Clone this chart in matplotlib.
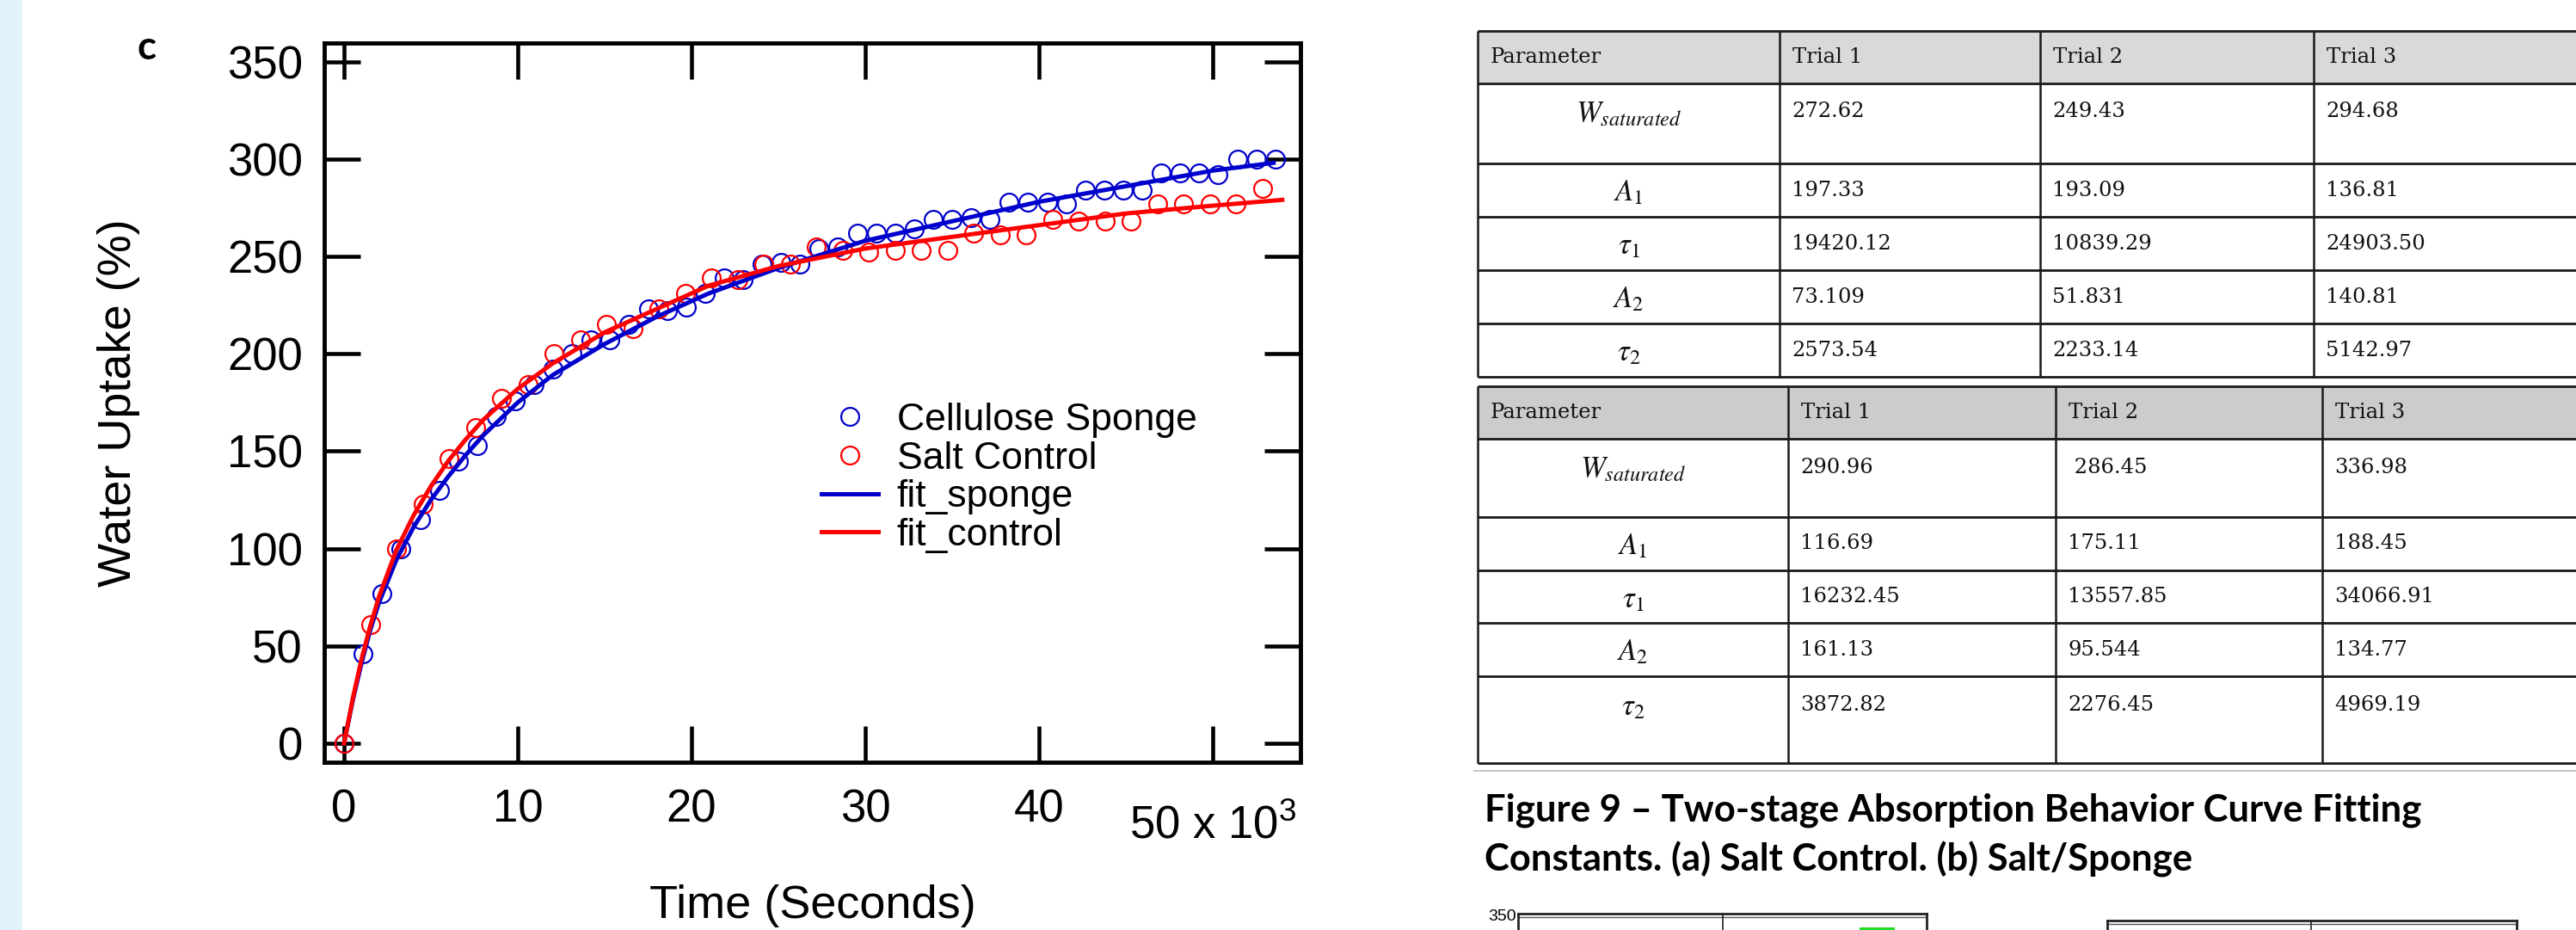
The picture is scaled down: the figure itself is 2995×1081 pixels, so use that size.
import matplotlib
matplotlib.use("Agg")
import matplotlib.pyplot as plt
import matplotlib.transforms as mtransforms
from matplotlib.patches import Rectangle

plt.rcParams['font.family'] = 'Liberation Sans'
plt.rcParams['mathtext.fontset'] = 'custom'
plt.rcParams['mathtext.rm'] = 'Liberation Sans'
plt.rcParams['mathtext.it'] = 'Liberation Sans:italic'
plt.rcParams['mathtext.bf'] = 'Liberation Sans:bold'

# time in 10^3 seconds, water uptake in %
sponge_time = [0, 1.09, 2.19, 3.28, 4.38, 5.47, 6.56, 7.66, 8.75, 9.85,
               10.94, 12.03, 13.13, 14.22, 15.32, 16.41, 17.50, 18.60, 19.69, 20.79,
               21.88, 22.97, 24.07, 25.16, 26.26, 27.35, 28.44, 29.54, 30.63, 31.73,
               32.82, 33.91, 35.01, 36.10, 37.20, 38.29, 39.38, 40.48, 41.57, 42.67,
               43.76, 44.85, 45.95, 47.04, 48.14, 49.23, 50.32, 51.42, 52.51, 53.61]
sponge_uptake = [0, 46, 77, 100, 115, 130, 145, 153, 168, 176,
                 184, 192, 200, 207, 207, 215, 223, 222, 224, 231,
                 239, 238, 246, 247, 246, 254, 255, 262, 262, 262,
                 264, 269, 269, 270, 269, 278, 278, 278, 277, 284,
                 284, 284, 284, 293, 293, 293, 292, 300, 300, 300]

control_time = [0, 1.51, 3.02, 4.53, 6.04, 7.55, 9.06, 10.57, 12.08, 13.59,
                15.10, 16.61, 18.12, 19.63, 21.14, 22.65, 24.16, 25.67, 27.18, 28.69,
                30.20, 31.71, 33.22, 34.73, 36.24, 37.75, 39.26, 40.77, 42.28, 43.79,
                45.30, 46.81, 48.32, 49.83, 51.34, 52.85]
control_uptake = [0, 61, 100, 123, 146, 162, 177, 184, 200, 207,
                  215, 213, 223, 231, 239, 238, 246, 246, 255, 253,
                  252, 253, 253, 253, 262, 261, 261, 269, 268, 268,
                  268, 277, 277, 277, 277, 285]

fit_sponge_time = [0, 0.5, 1, 1.5, 2, 3, 4, 5, 6, 7, 8, 10, 12, 15, 18, 21,
                   25, 30, 35, 40, 45, 50, 53.5]
fit_sponge_uptake = [0, 22, 41, 58, 72, 94, 111, 125, 137, 148, 158, 175, 189,
                     205, 219, 231, 244, 258, 268, 278, 286, 294, 298]
fit_control_time = [0, 0.5, 1, 1.5, 2, 3, 4, 5, 6, 7, 8, 10, 12, 15, 18, 21,
                    25, 30, 35, 40, 45, 50, 54]
fit_control_uptake = [0, 23, 43, 60, 75, 99, 117, 132, 145, 156, 166, 182, 195,
                      211, 223, 235, 245, 254, 260, 266, 272, 276, 279]

x_ticks = [0, 10, 20, 30, 40, 50]
x_tick_labels = ['0', '10', '20', '30', '40', '']
x_last_label = '50 x 10$^3$'
y_ticks = [0, 50, 100, 150, 200, 250, 300, 350]

table_header = ['Parameter', 'Trial 1', 'Trial 2', 'Trial 3']
table_params = [r'$W_{saturated}$', r'$A_1$', r'$\tau_1$', r'$A_2$', r'$\tau_2$']
control_values = [['272.62', '249.43', '294.68'],
                  ['197.33', '193.09', '136.81'],
                  ['19420.12', '10839.29', '24903.50'],
                  ['73.109', '51.831', '140.81'],
                  ['2573.54', '2233.14', '5142.97']]
sponge_values = [['290.96', ' 286.45', '336.98'],
                 ['116.69', '175.11', '188.45'],
                 ['16232.45', '13557.85', '34066.91'],
                 ['161.13', '95.544', '134.77'],
                 ['3872.82', '2276.45', '4969.19']]
caption_lines = ['Figure 9 \u2013 Two-stage Absorption Behavior Curve Fitting',
                 'Constants. (a) Salt Control. (b) Salt/Sponge']

W, H = 2995, 1081
fig = plt.figure(figsize=(W / 100, H / 100), dpi=100)

# page overlay in pixel coordinates
bg = fig.add_axes([0, 0, 1, 1], zorder=0)
bg.set_xlim(0, W)
bg.set_ylim(H, 0)
bg.axis('off')
bg.add_patch(Rectangle((0, 0), 26, H, color='#e1f4fc', lw=0))
bg.text(171, 56, 'c', fontsize=33, fontweight='bold', family='Lato', ha='center', va='center')


def draw_table(cols, rows, header_fill, values):
    right = W + 20
    edges = cols + [right]
    bg.add_patch(Rectangle((cols[0], rows[0]), right - cols[0], rows[1] - rows[0],
                           facecolor=header_fill, lw=0))
    for y in rows:
        bg.plot([cols[0], right], [y, y], color='#1a1a1a', lw=2.0, solid_capstyle='butt')
    for x in cols:
        bg.plot([x, x], [rows[0], rows[-1]], color='#1a1a1a', lw=1.8, solid_capstyle='butt')
    for k, name in enumerate(table_header):
        bg.text(edges[k] + 15, (rows[0] + rows[1]) / 2, name, family='DejaVu Serif',
                fontsize=17.5, ha='left', va='center', color='#111111')
    for r, param in enumerate(table_params):
        top, bot = rows[r + 1], rows[r + 2]
        yc = top + min((bot - top) / 2, 33)
        bg.text((cols[0] + cols[1]) / 2, yc + 3, param, math_fontfamily='stix',
                fontsize=25, ha='center', va='center', color='#111111')
        for c, val in enumerate(values[r]):
            bg.text(edges[c + 1] + 14, yc, val, family='DejaVu Serif', fontsize=17.5,
                    ha='left', va='center', color='#111111')


draw_table([1718, 2069, 2372, 2690], [36, 97, 190, 252, 314, 376, 438], '#d9d9d9', control_values)
draw_table([1718, 2079, 2390, 2700], [449, 510, 601, 663, 724, 786, 887], '#cccccc', sponge_values)
bg.plot([1714, W], [896, 896], color='#bbbbbb', lw=1.2)

for k, line in enumerate(caption_lines):
    bg.text(1726, 955 + 57 * k, line, family='Lato', fontweight='bold', fontsize=31.4,
            ha='left', va='baseline')

# top of the next figure, cut by the page edge
bg.text(1763, 1066, '350', fontsize=14, ha='right', va='center')
for x0, x1, xm, y0 in [(1765, 2240, 2003, 1062), (2450, 2926, 2687, 1070)]:
    bg.plot([x0, x1], [y0, y0], color='#222222', lw=2)
    bg.plot([x0, x1], [y0 + 4, y0 + 4], color='#555555', lw=1)
    bg.plot([x0, x0], [y0, H], color='#222222', lw=2)
    bg.plot([x1, x1], [y0, H], color='#222222', lw=2)
    bg.plot([xm, xm], [y0, H], color='#222222', lw=1.2)
bg.add_patch(Rectangle((2162, 1078), 41, 3, color='#22dd22', lw=0))

# main chart
ax = fig.add_axes([377 / W, 1 - 886 / H, (1512 - 377) / W, (886 - 50) / H], zorder=1)
blue = '#0000cc'
red = '#ff0000'
ax.plot(sponge_time, sponge_uptake, 'o', mfc='none', mec=blue, ms=15, mew=1.6,
        label='Cellulose Sponge')
ax.plot(control_time, control_uptake, 'o', mfc='none', mec=red, ms=15, mew=1.6,
        label='Salt Control')
ax.plot(fit_sponge_time, fit_sponge_uptake, color=blue, lw=3.6, label='fit_sponge')
ax.plot(fit_control_time, fit_control_uptake, color=red, lw=3.6, label='fit_control')

ax.set_xlim(-1.14, 55.05)
ax.set_ylim(-9.7, 359.5)
ax.set_xticks(x_ticks)
ax.set_xticklabels(x_tick_labels)
ax.set_yticks(y_ticks)
ax.tick_params(direction='in', length=30, width=3.3, top=True, right=True,
               labelsize=38)
ax.tick_params(axis='x', pad=22)
ax.tick_params(axis='y', pad=18)
for sp in ax.spines.values():
    sp.set_linewidth(3.5)

# last x tick label sits lower, with its exponent
xtrans = mtransforms.blended_transform_factory(ax.transData, ax.transAxes)
ax.text(x_ticks[-1], -0.106, x_last_label, transform=xtrans, fontsize=38,
        ha='center', va='baseline', clip_on=False)

ax.set_xlabel('Time (Seconds)', fontsize=39)
ax.xaxis.set_label_coords(0.5, -0.17)
ax.set_ylabel('Water Uptake (%)', fontsize=39)
ax.yaxis.set_label_coords(-0.1885, 0.5)

ax.legend(loc='upper left', bbox_to_anchor=(0.509, 0.50), frameon=False, fontsize=32,
          handlelength=1.5, handletextpad=0.48, labelspacing=0.08, borderpad=0,
          borderaxespad=0, numpoints=1)

fig.savefig('out.png', dpi=100, facecolor='white')
